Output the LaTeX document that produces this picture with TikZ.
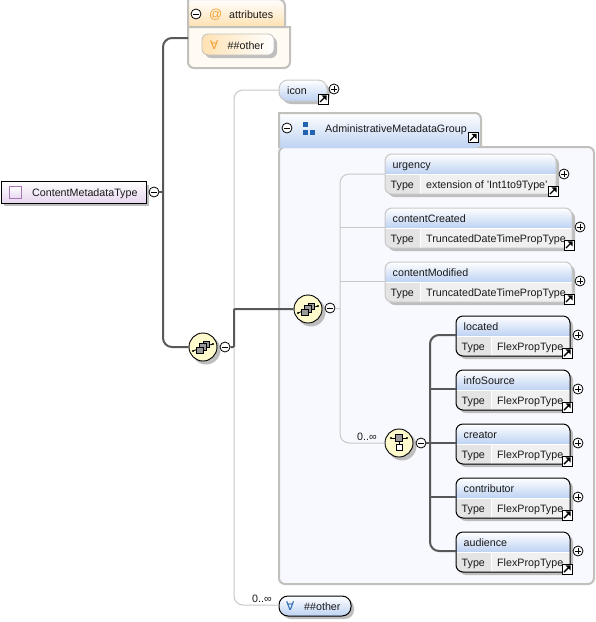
\documentclass[tikz,border=0pt]{standalone}
\usepackage{fontspec}
\setmainfont{Liberation Sans}
\newfontfamily\symfont{DejaVu Sans}
\definecolor{thin}{HTML}{C8C8C8}
\definecolor{trunkc}{HTML}{585858}
\definecolor{shadowc}{HTML}{BEBEBE}
\definecolor{bluehead}{HTML}{BDD2F2}
\definecolor{orangehead}{HTML}{FFE2B4}
\definecolor{lav}{HTML}{E6D6EE}
\definecolor{panelb}{HTML}{F8F9FF}
\definecolor{panelo}{HTML}{FFFBF2}
\definecolor{panelline}{HTML}{C2C0BC}
\definecolor{yel}{HTML}{FFFBCC}
\definecolor{iconblue}{HTML}{2262AE}
\definecolor{typebg}{HTML}{F0F0F0}
\definecolor{typecell}{HTML}{E4E4E4}
\definecolor{orangesym}{HTML}{F0A030}
\tikzset{
  x=1pt,y=-1pt,
  lbl/.style={inner sep=0pt,anchor=west,yshift=-1.8pt,text height=8pt,text depth=2.5pt,font=\fontsize{10.7}{12}\selectfont,text=black!90},
  thinline/.style={draw=thin,line width=1pt,rounded corners=9pt},
  trunk/.style={draw=trunkc,line width=2pt,rounded corners=9pt},
  opener/.style={circle,draw=black,fill=white,line width=.8pt,minimum size=10pt,inner sep=0pt},
  minusb/.style={opener,path picture={\draw[line width=.8pt] ([xshift=-2.6pt]path picture bounding box.center)--([xshift=2.6pt]path picture bounding box.center);}},
  plusb/.style={opener,path picture={\draw[line width=.8pt] ([xshift=-2.6pt]path picture bounding box.center)--([xshift=2.6pt]path picture bounding box.center);\draw[line width=.8pt] ([yshift=-2.6pt]path picture bounding box.center)--([yshift=2.6pt]path picture bounding box.center);}},
  linkbox/.style={rectangle,draw=black,fill=white,line width=1pt,minimum size=10pt,inner sep=0pt,
    path picture={\draw[line width=1.4pt] ([shift={(-3pt,-3pt)}]path picture bounding box.center)--([shift={(2pt,2pt)}]path picture bounding box.center);
    \fill[black] ([shift={(3.6pt,3.6pt)}]path picture bounding box.center)--([shift={(-1.4pt,3.6pt)}]path picture bounding box.center)--([shift={(3.6pt,-1.4pt)}]path picture bounding box.center)--cycle;}},
  bubble/.style={circle,draw=black,fill=yel,line width=.9pt,minimum size=28pt,inner sep=0pt},
  gsq/.style={draw=black,fill=black!40,line width=.7pt},
}
\newcommand{\bubblenode}[3]{%
  \fill[shadowc] (#2+3,#3+3) circle[radius=14.5pt];
  \node[bubble] (#1) at (#2,#3) {};}
\newcommand{\seqicon}[2]{%
  \draw[line width=.8pt] (#1-10,#2+4)--(#1,#2);\draw[line width=.8pt] (#1,#2)--(#1+10,#2-3);
  \fill (#1-10,#2+4) circle[radius=1.2pt];\fill (#1+10,#2-3) circle[radius=1.2pt];
  \draw[gsq] (#1,#2-6) rectangle (#1+6.5,#2+.5);
  \draw[gsq] (#1-3.3,#2-3.3) rectangle (#1+3.2,#2+3.2);
  \draw[gsq] (#1-6.5,#2) rectangle (#1,#2+6.5);}
\newcommand{\choiceicon}[2]{%
  \draw[line width=.8pt] (#1-8,#2-5)--(#1+8,#2-5);
  \fill (#1-8,#2-5) circle[radius=1.2pt];\fill (#1+8,#2-5) circle[radius=1.2pt];
  \draw[line width=.8pt] (#1,#2-2)--(#1,#2+1);
  \draw[gsq] (#1-3.5,#2-8.5) rectangle (#1+3.5,#2-1.5);
  \draw[draw=black,fill=white,line width=.9pt] (#1-3,#2+1) rectangle (#1+3,#2+7);}
\newcommand{\groupicon}[2]{%
  \fill[iconblue] (#1,#2) rectangle (#1+5,#2+5);
  \fill[iconblue] (#1,#2+8) rectangle (#1+5,#2+13);
  \fill[iconblue] (#1+7,#2+8) rectangle (#1+12,#2+13);}
% \elem{name}{x1}{y1}{x2}{divx}{title}{type}{border colour}
\newcommand{\elem}[8]{%
  \fill[shadowc,rounded corners=7pt] (#2+3,#3+3) rectangle (#4+3,#3+43);
  \begin{scope}
    \clip[rounded corners=7pt] (#2,#3) rectangle (#4,#3+40);
    \shade[top color=white,bottom color=bluehead] (#2,#3) rectangle (#4,#3+20);
    \fill[typebg] (#2,#3+20) rectangle (#4,#3+40);
    \fill[typecell] (#2,#3+20) rectangle (#5,#3+40);
    \draw[white,line width=1pt] (#5,#3+20)--(#5,#3+40);
    \draw[white,line width=.8pt] (#2,#3+20.5)--(#4,#3+20.5);
  \end{scope}
  \node[draw=#8,line width=1pt,rounded corners=7pt,inner sep=0pt,minimum width=#4-#2,minimum height=40pt] (#1) at ({(#2+#4)/2},#3+20) {};
  \node[lbl] (#1title) at (#2+7.5,#3+10) {#6};
  \node[lbl] (#1key) at (#2+5.5,#3+30) {Type};
  \node[lbl] (#1type) at (#5+6,#3+30) {#7};}
\begin{document}
\begin{tikzpicture}
\useasboundingbox (0,0) rectangle (596,622);
\fill[white] (0,0) rectangle (596,622);

% root
\fill[shadowc] (4,185) rectangle (149,206);
\node[draw=black,line width=1pt,inner sep=0pt,minimum width=145pt,minimum height=22pt,top color=white,bottom color=lav] (root) at (73.5,192) {};
\node[draw={rgb,255:red,170;green,120;blue,180},fill=white,line width=1pt,inner sep=0pt,minimum size=12pt,top color=white,bottom color=lav] (rooticon) at (15.5,192.5) {};
\node[lbl] (roottext) at (32,192) {ContentMetadataType};
\node[minusb] (rootm) at (154,192) {};

% attributes
\path[fill=panelo,draw=panelline,line width=2pt]
  (188,27) -- (290,27) [rounded corners=6pt] -- (290,68) -- (188,68) [sharp corners] -- cycle;
\shade[top color=white,bottom color=orangehead,draw=panelline,line width=2pt]
  (188,26) -- (188,-1) [rounded corners=7pt] -- (285,-1) -- (285,26) [sharp corners];
\draw[panelline,line width=1pt] (188,26.5) -- (290,26.5);
\node[minusb] (attrm) at (196,14) {};
\node[lbl,text=orangesym,font=\fontsize{13}{14}\selectfont] (attrat) at (209,14) {@};
\node[lbl] (attrtext) at (229,14) {attributes};
\fill[shadowc,rounded corners=6pt] (205,37) rectangle (277,58);
\shade[left color=orangehead,right color=white,draw=panelline,line width=.8pt,rounded corners=6pt] (202,34) rectangle (274,55);
\node[lbl,text=orangesym,font=\symfont\fontsize{12}{12}\selectfont] (attrall) at (210,45) {∀};
\node[lbl] (attrother) at (227.5,45) {\#\#other};
\coordinate (attrport) at (188,38);

% icon
\fill[shadowc,rounded corners=9pt] (282,83) rectangle (330,104);
\shade[top color=white,bottom color=bluehead,draw=thin,line width=1pt,rounded corners=9pt] (279,80) rectangle (327,101);
\node[lbl] (icontext) at (287,90) {icon};
\coordinate (iconport) at (279,90);
\node[linkbox] (iconlink) at (323,99) {};
\node[plusb] (iconp) at (334,89) {};

% group
\path[fill=panelb,draw=panelline,line width=2pt,rounded corners=6pt]
  (279,584) -- (279,147) -- (594,147) -- (594,584) -- cycle;
\shade[top color=white,bottom color=bluehead]
  (279,148) -- (279,113) [rounded corners=6pt] -- (481,113) -- (481,148) [sharp corners] -- cycle;
\draw[panelline,line width=2pt] (279,148) -- (279,113) [rounded corners=6pt] -- (481,113) -- (481,147);
\node[minusb] (groupm) at (287,128) {};
\groupicon{303}{122}
\node[lbl] (grouptext) at (325,128) {AdministrativeMetadataGroup};
\node[linkbox] (grouplink) at (473,137.5) {};

% elements
\elem{urgency}{385}{154}{556}{420}{urgency}{extension of 'Int1to9Type'}{thin}
\node[linkbox] (urgencylink) at (553,191) {};
\node[plusb] (urgencyp) at (564,174) {};
\elem{created}{385}{208}{572}{420}{contentCreated}{TruncatedDateTimePropType}{thin}
\node[linkbox] (createdlink) at (569,245) {};
\node[plusb] (createdp) at (580,227) {};
\elem{modified}{385}{262}{572}{420}{contentModified}{TruncatedDateTimePropType}{thin}
\node[linkbox] (modifiedlink) at (569,299) {};
\node[plusb] (modifiedp) at (580,281) {};

\elem{located}{456}{316}{570}{491}{located}{FlexPropType}{black}
\node[linkbox] (locatedlink) at (567,353) {};
\node[plusb] (locatedp) at (578,335) {};
\elem{infosource}{456}{370}{570}{491}{infoSource}{FlexPropType}{black}
\node[linkbox] (infosourcelink) at (567,407) {};
\node[plusb] (infosourcep) at (578,389) {};
\elem{creator}{456}{424}{570}{491}{creator}{FlexPropType}{black}
\node[linkbox] (creatorlink) at (567,461) {};
\node[plusb] (creatorp) at (578,443) {};
\elem{contributor}{456}{478}{570}{491}{contributor}{FlexPropType}{black}
\node[linkbox] (contributorlink) at (567,515) {};
\node[plusb] (contributorp) at (578,497) {};
\elem{audience}{456}{532}{570}{491}{audience}{FlexPropType}{black}
\node[linkbox] (audiencelink) at (567,569) {};
\node[plusb] (audiencep) at (578,551) {};

% ##other bottom
\fill[shadowc,rounded corners=9pt] (282,599) rectangle (354,619);
\shade[top color=white,bottom color=bluehead,draw=black,line width=1pt,rounded corners=9pt] (279,596) rectangle (351,616);
\node[lbl,text=iconblue,font=\symfont\fontsize{12}{12}\selectfont] (otherall) at (286,606) {∀};
\node[lbl] (othertext) at (304,606) {\#\#other};
\coordinate (otherport) at (279,605);

% compositors
\bubblenode{seqa}{203}{347}
\seqicon{203}{347}
\node[minusb] (seqam) at (225,347) {};
\bubblenode{seqb}{308}{309}
\seqicon{308}{309}
\node[minusb] (seqbm) at (330,308) {};
\bubblenode{cho}{399}{443}
\choiceicon{399}{443}
\node[minusb] (chom) at (421,443) {};

% branch points
\coordinate (ta) at (163,192);
\coordinate (tb) at (234,347);
\coordinate (tc) at (340,308);
\coordinate (td) at (430,443);
\coordinate (uport) at (385,174);
\coordinate (cport) at (385,227);
\coordinate (mport) at (385,281);
\coordinate (lport) at (456,335);
\coordinate (iport) at (456,389);
\coordinate (crport) at (456,443);
\coordinate (coport) at (456,497);
\coordinate (aport) at (456,551);

% thin connectors
\draw[thinline] (seqam.east) -- (tb);
\draw[thinline] (iconport) -| (tb) |- (otherport);
\draw[thinline] (seqbm.east) -- (tc);
\draw[thinline] (uport) -| (tc) |- (cho.west);
\draw[thinline] (tc |- cport) -- (cport);
\draw[thinline] (tc |- mport) -- (mport);
\node[lbl] (occa) at (252,598) {0..∞};
\node[lbl] (occb) at (357,436) {0..∞};

% main connectors
\draw[trunk] (rootm.east) -- (ta);
\draw[trunk] (attrport) -| (ta) |- (seqa.west);
\draw[trunk,rounded corners=1pt] (seqam.east) -| (tb) |- (seqb.west);
\draw[trunk] (chom.east) -- (td);
\draw[trunk] (lport) -| (td) |- (aport);
\draw[trunk] (td |- iport) -- (iport);
\draw[trunk] (td) -- (crport);
\draw[trunk] (td |- coport) -- (coport);
\end{tikzpicture}
\end{document}
